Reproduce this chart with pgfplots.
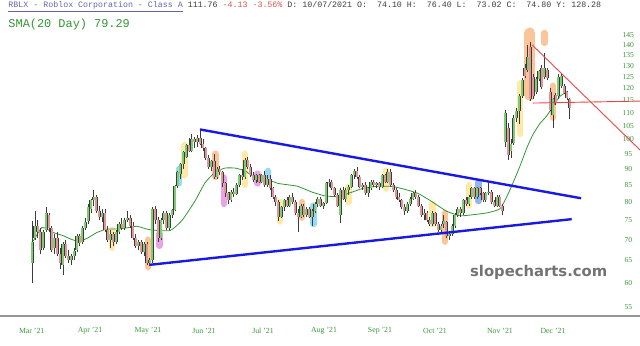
\documentclass[border=0pt]{standalone}
\usepackage{pgfplots}
\pgfplotsset{compat=1.18}
\usepackage{pgfplotstable}
\usepackage{fontspec}
\setmainfont{Liberation Serif}
\newfontfamily\monofont{Liberation Mono}
\newfontfamily\wmfont{DejaVu Sans}

\definecolor{tickgreen}{RGB}{60,150,60}
\definecolor{smagreen}{RGB}{50,150,50}
\definecolor{candleup}{RGB}{125,205,115}
\definecolor{candledn}{RGB}{226,150,150}
\definecolor{edge}{RGB}{60,60,60}
\definecolor{tlblue}{RGB}{25,25,225}
\definecolor{tlred}{RGB}{232,70,70}
\definecolor{hlyellow}{RGB}{255,215,90}
\definecolor{hlorange}{RGB}{245,150,70}
\definecolor{hlmagenta}{RGB}{215,90,215}
\definecolor{hlcyan}{RGB}{70,185,230}
\definecolor{hlblue}{RGB}{60,120,230}
\definecolor{hdrblue}{RGB}{100,100,170}
\definecolor{hdrred}{RGB}{220,80,80}
\definecolor{hdrtext}{RGB}{60,60,60}
\definecolor{axisgray}{RGB}{150,150,150}
\definecolor{wmgray}{RGB}{115,115,115}

\pgfplotstableread{
i o h l c
0 64.5 74.9 60.0 69.5
1 70.5 77.5 70.0 73.5
2 73.5 75.0 70.5 72.0
3 72.0 73.0 66.5 67.5
4 68.0 72.5 67.5 72.0
5 72.5 78.5 72.0 77.0
6 76.5 77.0 72.0 73.0
7 73.0 73.5 67.0 67.5
8 68.0 71.5 66.5 70.5
9 70.5 72.0 66.0 66.5
10 66.5 68.0 63.0 64.5
11 64.0 69.5 61.8 69.0
12 69.0 70.0 65.5 66.0
13 66.0 67.5 64.5 65.0
14 65.0 66.5 64.0 66.0
15 66.0 68.0 65.0 67.2
16 67.5 71.5 67.0 70.8
17 70.8 71.5 68.5 69.2
18 69.5 73.5 69.0 73.0
19 73.0 75.5 72.5 74.6
20 74.8 79.5 74.0 78.5
21 78.0 81.0 77.0 80.5
22 80.5 83.4 79.0 81.5
23 81.5 82.0 77.0 77.5
24 77.5 79.0 75.0 76.0
25 76.0 78.0 74.5 77.0
26 77.0 78.0 72.0 72.5
27 72.5 73.5 69.5 70.0
28 70.0 72.5 68.0 71.5
29 71.5 72.0 68.5 69.5
30 69.5 72.5 69.0 72.0
31 72.0 74.5 71.5 74.0
32 74.0 75.5 72.5 73.0
33 73.0 75.5 72.5 75.0
34 75.0 77.6 74.5 75.5
35 75.5 76.5 73.0 73.5
36 73.5 74.5 70.0 70.5
37 70.5 71.5 68.0 68.5
38 68.5 70.0 67.5 69.5
39 69.5 70.0 66.5 67.0
40 67.0 69.5 66.0 69.0
41 69.0 69.5 64.0 64.5
42 64.5 65.5 63.8 65.0
43 65.0 78.5 64.5 78.0
44 78.0 79.0 74.0 75.0
45 75.0 76.0 69.5 70.5
46 70.5 75.5 70.0 75.0
47 75.0 77.5 74.0 77.0
48 77.0 77.5 72.5 73.0
49 73.0 77.0 72.5 76.5
50 76.5 78.0 75.5 77.7
51 77.7 85.0 77.5 84.7
52 84.7 89.5 84.0 89.0
53 88.5 92.0 87.0 91.5
54 91.5 96.0 90.0 95.5
55 94.0 98.5 93.5 98.0
56 98.0 100.5 95.5 96.0
57 96.0 102.0 95.5 100.0
58 100.0 101.0 97.0 99.0
59 99.0 101.5 97.5 100.5
60 100.5 103.3 98.0 98.5
61 98.5 100.0 96.0 97.0
62 97.0 97.5 93.0 93.5
63 93.5 94.5 90.0 90.5
64 90.5 93.0 89.5 92.5
65 92.5 95.0 87.0 87.5
66 87.5 90.5 87.0 90.0
67 90.0 91.0 88.0 89.0
68 89.0 89.5 84.5 85.5
69 85.5 86.0 81.5 82.5
70 82.5 83.0 79.5 80.5
71 80.5 83.5 80.0 83.0
72 83.0 84.0 81.5 82.3
73 82.3 85.5 82.0 85.0
74 85.0 88.5 84.5 88.0
75 88.0 90.0 86.5 87.5
76 87.5 93.5 87.0 93.0
77 93.0 94.0 90.0 90.5
78 90.5 91.5 87.5 88.0
79 88.0 89.0 86.0 86.5
80 86.5 88.5 85.5 88.0
81 88.0 88.5 85.5 86.0
82 86.0 88.5 85.5 88.0
83 88.0 89.5 84.5 85.0
84 85.0 88.0 84.5 87.0
85 87.0 88.0 83.5 84.0
86 84.0 84.5 81.0 81.5
87 81.5 82.0 79.0 80.0
88 80.0 80.5 74.7 76.0
89 76.0 79.0 75.5 78.5
90 78.5 81.0 77.5 80.5
91 80.5 81.5 78.5 79.0
92 79.0 82.0 78.5 81.5
93 81.5 82.5 79.5 80.0
94 80.0 80.5 76.5 77.0
95 77.0 78.0 72.0 76.0
96 76.0 79.5 75.5 79.0
97 79.0 79.5 76.0 76.5
98 76.5 78.5 76.0 78.0
99 78.0 78.5 75.5 76.0
100 76.0 78.0 73.5 77.5
101 77.5 80.0 77.0 79.5
102 79.5 81.5 78.5 81.0
103 81.0 81.5 78.5 79.0
104 79.0 80.0 78.0 79.8
105 79.8 85.8 79.5 85.5
106 85.5 87.0 84.5 86.0
107 86.0 86.5 83.5 84.0
108 84.0 84.5 81.5 82.0
109 82.0 82.5 78.5 79.0
110 76.5 84.0 74.2 83.5
111 83.5 84.5 80.5 81.0
112 81.0 84.0 80.0 83.5
113 83.5 85.0 82.0 84.5
114 84.5 88.5 84.0 88.0
115 88.0 90.0 87.0 89.5
116 89.5 90.5 87.0 87.5
117 87.5 88.0 84.0 84.5
118 84.5 85.5 83.5 85.0
119 85.0 86.0 82.0 82.5
120 82.5 84.5 81.5 84.0
121 84.0 86.5 83.5 86.0
122 86.0 86.5 84.5 85.0
123 85.0 86.0 84.0 85.5
124 85.5 86.0 83.5 84.5
125 84.5 88.5 84.0 88.0
126 88.0 88.5 85.5 86.0
127 86.0 90.0 85.5 89.0
128 89.0 90.0 84.5 85.0
129 85.0 85.5 83.0 83.5
130 83.5 84.0 81.0 81.5
131 81.5 82.5 80.0 80.5
132 80.5 81.0 78.0 78.5
133 78.5 79.5 76.5 77.5
134 77.5 80.0 77.0 79.5
135 79.5 81.5 79.0 81.0
136 81.0 83.0 80.5 82.5
137 82.5 83.5 81.0 81.5
138 81.5 82.0 78.5 79.0
139 79.0 79.5 76.0 76.5
140 76.5 78.0 75.0 77.0
141 77.0 77.5 74.5 75.0
142 75.0 76.0 73.5 74.0
143 74.0 77.5 73.5 77.0
144 77.0 77.3 73.5 74.0
145 74.0 74.5 72.0 72.5
146 72.5 74.0 71.5 73.5
147 74.1 76.4 73.02 74.8
148 74.5 74.8 70.5 71.0
149 71.0 72.0 70.0 71.5
150 71.5 74.0 71.0 73.5
151 73.5 77.0 73.0 76.5
152 76.5 78.5 76.0 78.0
153 78.0 78.6 76.0 77.0
154 77.0 81.0 76.5 80.5
155 80.5 81.5 79.0 79.5
156 79.5 82.0 79.0 81.5
157 81.5 84.5 81.0 84.0
158 84.0 84.5 81.0 81.5
159 81.5 84.5 81.0 84.0
160 84.0 84.5 82.0 82.5
161 82.5 83.0 80.0 80.5
162 80.5 83.0 80.0 82.5
163 82.5 85.7 82.0 83.0
164 83.0 83.5 79.5 80.0
165 80.0 80.5 78.5 79.0
166 79.0 82.0 78.5 81.5
167 81.5 82.0 78.5 79.0
168 79.0 79.5 76.5 77.5
169 99.0 111.0 97.5 109.7
170 104.2 106.0 93.0 94.5
171 96.0 100.0 93.5 98.5
172 98.6 109.0 98.0 107.8
173 108.0 112.0 106.5 110.5
174 110.5 117.5 105.8 116.6
175 116.6 124.5 116.0 123.4
176 129.0 131.0 124.5 125.5
177 128.0 140.0 127.0 134.0
178 139.0 141.6 114.5 115.5
179 124.9 126.0 115.5 116.6
180 118.5 125.0 117.5 124.0
181 124.0 128.0 123.0 127.4
182 129.0 130.5 119.5 120.5
183 125.0 136.0 124.0 129.0
184 128.0 129.0 123.5 124.5
185 118.5 120.0 110.5 111.0
186 109.0 116.0 104.0 115.5
187 117.0 118.0 113.0 114.0
188 116.6 126.0 115.5 125.0
189 121.0 126.5 120.0 125.4
190 121.0 122.0 117.5 118.0
191 118.5 119.0 115.0 115.89
192 115.3 116.0 107.6 111.76
}\ohlc

\pgfplotsset{
  wickstyle/.style={draw=edge, line width=0.6bp, mark=none, forget plot, unbounded coords=jump},
  bodyedge/.style={draw=edge, line width=3.0bp, line cap=butt, mark=none, forget plot, unbounded coords=jump},
  upfill/.style={draw=candleup, line width=2.1bp, line cap=butt, mark=none, forget plot, unbounded coords=jump},
  dnfill/.style={draw=candledn, line width=2.1bp, line cap=butt, mark=none, forget plot, unbounded coords=jump},
  hl/.style={line width=6.5bp, line cap=round, opacity=0.55, mark=none, forget plot, unbounded coords=jump},
}

\def\wickpts{}\def\uppts{}\def\dnpts{}%
\pgfplotstablegetrowsof{\ohlc}%
\pgfmathtruncatemacro\lastrow{\pgfplotsretval-1}%
\pgfplotsforeachungrouped \rowidx in {0,...,\lastrow}{%
  \pgfplotstablegetelem{\rowidx}{i}\of\ohlc\let\cI\pgfplotsretval
  \pgfplotstablegetelem{\rowidx}{o}\of\ohlc\let\cO\pgfplotsretval
  \pgfplotstablegetelem{\rowidx}{h}\of\ohlc\let\cH\pgfplotsretval
  \pgfplotstablegetelem{\rowidx}{l}\of\ohlc\let\cL\pgfplotsretval
  \pgfplotstablegetelem{\rowidx}{c}\of\ohlc\let\cC\pgfplotsretval
  \xdef\wickpts{\wickpts(\cI,\cL)(\cI,\cH)(\cI,nan)}%
  \ifdim\cC pt<\cO pt
    \xdef\dnpts{\dnpts(\cI,\cO)(\cI,\cC)(\cI,nan)}%
  \else
    \xdef\uppts{\uppts(\cI,\cO)(\cI,\cC)(\cI,nan)}%
  \fi
}%
\edef\wickplot{\noexpand\addplot[wickstyle] coordinates {\wickpts};}%
\edef\upedge{\noexpand\addplot[bodyedge] coordinates {\uppts};}%
\edef\dnedge{\noexpand\addplot[bodyedge] coordinates {\dnpts};}%
\edef\upbody{\noexpand\addplot[upfill] coordinates {\uppts};}%
\edef\dnbody{\noexpand\addplot[dnfill] coordinates {\dnpts};}%

\begin{document}%
\begin{tikzpicture}
\begin{axis}[
  at={(0,0)}, anchor=south west,
  scale only axis, width=640bp, height=346bp,
  xmin=-11.4286, xmax=217.1429,
  ymode=log, ymin=47.94, ymax=164.23,
  axis line style={draw=none},
  major tick length=0pt, minor tick length=0pt,
  xtick={-0.1,20.71,41.43,61.43,82.5,104.3,124.29,143.93,167.14,186.07},
  xticklabels={Mar '21,Apr '21,May '21,Jun '21,Jul '21,Aug '21,Sep '21,Oct '21,Nov '21,Dec '21},
  ytick={55,60,65,70,75,80,85,90,95,100,105,110,115,120,125,130,135,140,145},
  yticklabels={55,60,65,70,75,80,85,90,95,100,105,110,115,120,125,130,135,140,145},
  ytick pos=right,
  xticklabel style={font=\fontsize{7.8bp}{9bp}\selectfont, text=tickgreen, anchor=center, yshift=15.3bp, inner sep=0pt},
  yticklabel style={font=\fontsize{7.6bp}{9bp}\selectfont, text=tickgreen, anchor=center, xshift=-11.7bp, inner sep=0pt},
  unbounded coords=jump,
]
% baseline
\addplot[draw=axisgray, line width=2.4bp, forget plot] coordinates {(-12,53.34) (218,53.34)};
% highlights
\addplot[hl, draw=hlyellow] coordinates {(28.5,68)(28.5,72.5)(28.5,nan)
  (54.5,88)(54.5,98)(54.5,nan)(76,85)(76,95)(76,nan)(88.5,74.7)(88.5,80)(88.5,nan)
  (113,80)(113,84.5)(113,nan)(126.5,84)(126.5,89.5)(126.5,nan)(143,74)(143,79.5)(143,nan)
  (156,79)(156,85)(156,nan)(174.3,102)(174.3,122)(174.3,nan)};
\addplot[hl, draw=hlorange] coordinates {(41.5,63.5)(41.5,70)(41.5,nan)
  (65.5,87.5)(65.5,95)(65.5,nan)(96.5,75.7)(96.5,80)(96.5,nan)(147.5,69.5)(147.5,77)(147.5,nan)
  (186,108)(186,121)(186,nan)(183,141)(183,146)(183,nan)};
\addplot[hl, draw=hlorange, line width=11bp] coordinates {(177.8,117)(177.8,146)};
\addplot[hl, draw=hlmagenta] coordinates {(45.5,68.5)(45.5,71.5)(45.5,nan)
  (68.5,79.5)(68.5,87.3)(68.5,nan)(80.5,85.5)(80.5,88.5)(80.5,nan)};
\addplot[hl, draw=hlcyan] coordinates {(52.5,85.5)(52.5,90)(52.5,nan)
  (84.3,86.6)(84.3,89.4)(84.3,nan)(100.5,74)(100.5,79)(100.5,nan)};
\addplot[hl, draw=hlblue] coordinates {(159.5,80.3)(159.5,85.8)};
% SMA 20
\addplot[draw=smagreen, line width=0.8bp, mark=none, smooth, tension=0.3, forget plot] coordinates {
(0.4,69.6) (3.6,73.1) (7.5,71.8) (11.1,71.0) (13.6,70.2) (16.4,69.6) (19.6,70.3) (23.2,71.8)
(26.8,72.7) (30.4,72.7) (33.9,73.0) (37.5,73.4) (42.1,72.5) (49.3,72.3) (53.6,75.0) (58.2,80.3)
(61.8,85.7) (65.4,89.0) (68.9,90.3) (72.5,90.3) (76.1,89.4) (79.6,87.3) (84.3,86.6) (87.9,85.5)
(92.1,85.0) (95.0,84.6) (100,82.9) (104.6,81.8) (109.3,81.6) (114.3,82.9) (118.9,84.2) (123.6,84.6)
(128.6,84.6) (133.2,83.7) (137.9,82.5) (142.1,80.5) (148,77.5) (152.9,76.2) (157.5,76.5) (162.5,77.0)
(167.1,78.1) (169.6,81.6) (171.8,85.7) (174.3,91.0) (176.8,97.2) (179.0,101.9) (181.4,105.8)
(183.9,108.8) (186.1,112.6) (188.6,116.6) (191.1,118.5)};
% candles
\wickplot
\upedge
\dnedge
\upbody
\dnbody
% trend lines
\addplot[draw=tlblue, line width=2.4bp, forget plot] coordinates {(60,103.6) (196.1,81.1)};
\addplot[draw=tlblue, line width=2.4bp, forget plot] coordinates {(42.1,64.0) (192.75,75.3)};
\addplot[draw=tlred, line width=0.9bp, forget plot] coordinates {(178.6,140.0) (217.14,96.3)};
\addplot[draw=tlred, line width=0.9bp, forget plot] coordinates {(179,113.8) (217.14,114.6)};
\end{axis}
\node[anchor=west, inner sep=0pt] at (8.3bp,339.3bp) {\monofont\fontsize{8.3bp}{10bp}\selectfont\textcolor{hdrblue}{\underline{RBLX - Roblox Corporation - Class A}} \textcolor{hdrtext}{111.76} \textcolor{hdrred}{-4.13 -3.56\%} \textcolor{hdrtext}{D: 10/07/2021 O:~~74.10 H:~~76.40 L:~~73.02 C:~~74.80 Y: 128.28}};
\node[anchor=west, inner sep=0pt, text=smagreen] at (8.3bp,321.7bp) {\monofont\fontsize{11.9bp}{14bp}\selectfont SMA(20 Day) 79.29};
\node[anchor=base, inner sep=0pt, text=wmgray] at (538.7bp,69bp) {\wmfont\bfseries\fontsize{14.8bp}{17bp}\selectfont slopecharts.com};
\pgfresetboundingbox
\useasboundingbox (0bp,0bp) rectangle (640bp,346bp);
\end{tikzpicture}%
\end{document}
